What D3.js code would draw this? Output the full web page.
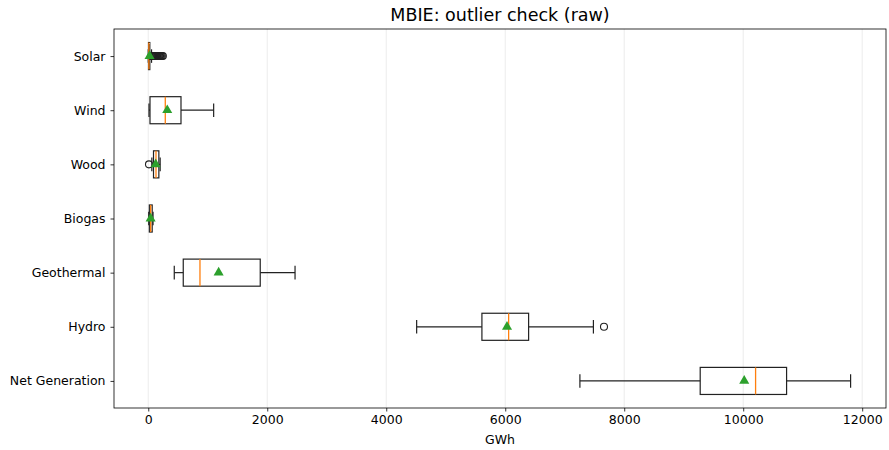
<!DOCTYPE html>
<html>
<head>
<meta charset="utf-8">
<title>MBIE: outlier check (raw)</title>
<style>
  body { margin: 0; background: #fff; }
  svg text { font-family: "DejaVu Sans", sans-serif; fill: #000; }
</style>
</head>
<body>
<div id="chart"></div>
<script src="https://d3js.org/d3.v7.min.js"></script>
<script>
// categories top to bottom
const categories = ["Solar", "Wind", "Wood", "Biogas", "Geothermal", "Hydro", "Net Generation"];
const whiskerLow  = [0,   12,  60,  8,   437,  4511, 7255];
const q1          = [4,   29,  88,  18,  588,  5608, 9277];
const median      = [10,  286, 130, 40,  869,  6057, 10208];
const q3          = [26,  550, 178, 66,  1882, 6393, 10729];
const whiskerHigh = [55,  1099, 200, 80, 2467, 7482, 11805];
const means       = [22,  319, 125, 40,  1183, 6030, 10017];
const outliers = [
  [58, 64, 70, 77, 85, 92, 100, 110, 118, 127, 136, 148, 160, 172, 185, 198, 212, 228, 245],
  [], [12], [], [], [7660], []
];
const xTicks = [0, 2000, 4000, 6000, 8000, 10000, 12000];

const W = 889, H = 450;
const m = {top: 29, right: 3, bottom: 42, left: 114};
const iw = W - m.left - m.right, ih = H - m.top - m.bottom;

const svg = d3.select("#chart").append("svg")
  .attr("width", W).attr("height", H);

svg.append("text")
  .attr("x", m.left + iw / 2).attr("y", 21)
  .attr("text-anchor", "middle")
  .style("font-size", "17.5px")
  .text("MBIE: outlier check (raw)");

const g = svg.append("g").attr("transform", `translate(${m.left},${m.top})`);

const x = d3.scaleLinear().domain([-576, 12400]).range([0, iw]);
const y = d3.scalePoint().domain(categories).range([0, ih]).padding(0.5);
const step = y.step();
const boxH = step * 0.5;
const capH = boxH * 0.5;

// grid
g.selectAll(".grid").data(xTicks).join("line")
  .attr("x1", d => x(d)).attr("x2", d => x(d))
  .attr("y1", 0).attr("y2", ih)
  .attr("stroke", "#b0b0b0").attr("stroke-opacity", 0.3).attr("stroke-width", 0.8);

const rows = categories.map((c, i) => ({
  c, lo: whiskerLow[i], q1: q1[i], med: median[i], q3: q3[i],
  hi: whiskerHigh[i], mean: means[i], out: outliers[i]
}));

const lw = 1.2, ink = "#222";
const row = g.selectAll(".row").data(rows).join("g")
  .attr("transform", d => `translate(0,${y(d.c)})`);

// whiskers
row.append("line")
  .attr("x1", d => x(d.lo)).attr("x2", d => x(d.q1))
  .attr("stroke", ink).attr("stroke-width", lw);
row.append("line")
  .attr("x1", d => x(d.q3)).attr("x2", d => x(d.hi))
  .attr("stroke", ink).attr("stroke-width", lw);
// caps
row.append("line")
  .attr("x1", d => x(d.lo)).attr("x2", d => x(d.lo))
  .attr("y1", -capH / 2).attr("y2", capH / 2)
  .attr("stroke", ink).attr("stroke-width", lw);
row.append("line")
  .attr("x1", d => x(d.hi)).attr("x2", d => x(d.hi))
  .attr("y1", -capH / 2).attr("y2", capH / 2)
  .attr("stroke", ink).attr("stroke-width", lw);
// box
row.append("rect")
  .attr("x", d => x(d.q1)).attr("width", d => Math.max(0, x(d.q3) - x(d.q1)))
  .attr("y", -boxH / 2).attr("height", boxH)
  .attr("fill", "none").attr("stroke", ink).attr("stroke-width", lw);
// median
row.append("line")
  .attr("x1", d => x(d.med)).attr("x2", d => x(d.med))
  .attr("y1", -boxH / 2).attr("y2", boxH / 2)
  .attr("stroke", "#ff7f0e").attr("stroke-width", 1.3);
// fliers
row.selectAll(".flier").data(d => d.out).join("circle")
  .attr("cx", d => x(d)).attr("cy", 0).attr("r", 3.5)
  .attr("fill", "none").attr("stroke", ink).attr("stroke-width", 1.1);
// means
const tri = d3.symbol().type(d3.symbolTriangle).size(44);
row.append("path")
  .attr("d", tri)
  .attr("transform", d => `translate(${x(d.mean)},0)`)
  .attr("fill", "#2ca02c");

// axes
const xAxis = g.append("g").attr("transform", `translate(0,${ih})`)
  .call(d3.axisBottom(x).tickValues(xTicks).tickFormat(d3.format("d")).tickSizeOuter(0).tickSize(3.5).tickPadding(4));
const yAxis = g.append("g")
  .call(d3.axisLeft(y).tickSizeOuter(0).tickSize(3.5).tickPadding(5));
[xAxis, yAxis].forEach(a => {
  a.select(".domain").remove();
  a.selectAll("text").style("font-size", "12.5px").style("font-family", "DejaVu Sans, sans-serif");
  a.selectAll(".tick line").attr("stroke", "#000").attr("stroke-width", 0.8);
});

// spines
g.append("rect").attr("width", iw).attr("height", ih)
  .attr("fill", "none").attr("stroke", "#000").attr("stroke-width", 0.8);

svg.append("text")
  .attr("x", m.left + iw / 2).attr("y", 444)
  .attr("text-anchor", "middle")
  .style("font-size", "12.5px")
  .text("GWh");
</script>
</body>
</html>
